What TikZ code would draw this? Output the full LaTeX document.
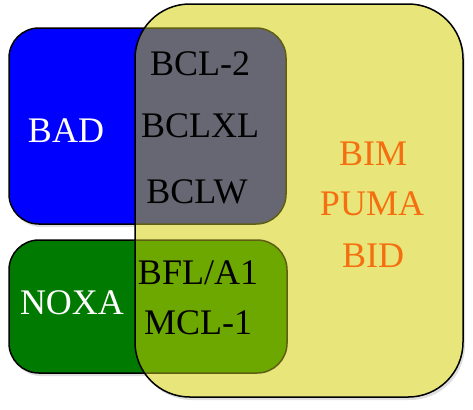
\documentclass[tikz,border=0pt]{standalone}
\usepackage{fontspec}
\setmainfont{Liberation Serif}
\usetikzlibrary{shadows}

\definecolor{badblue}{RGB}{0,0,255}
\definecolor{noxagreen}{RGB}{0,122,0}
\definecolor{bimyellow}{RGB}{232,230,122}
\definecolor{bimorange}{RGB}{245,110,15}
\definecolor{bclgray}{RGB}{103,103,115}
\definecolor{bflolive}{RGB}{108,168,0}
\definecolor{edgeolive}{RGB}{95,95,20}

\tikzset{
	box/.style={rounded corners=#1, line width=1.5bp},
	shad/.style={drop shadow={shadow xshift=2bp, shadow yshift=-3bp, opacity=0.25}},
	lbl/.style={font=\fontsize{36bp}{42bp}\selectfont, inner sep=0pt, anchor=base}
}

\begin{document}
\begin{tikzpicture}[x=1bp,y=-1bp]
	\useasboundingbox (0,0) rectangle (473,409);
	% left boxes
	\draw[box=30, shad, fill=badblue] (9,28) rectangle (286,224);
	\draw[box=30, shad, fill=noxagreen] (9,240) rectangle (287,373);
	% big yellow box
	\fill[box=55, shad, fill=bimyellow] (135,4) rectangle (463,397);
	\begin{scope}
		\clip[rounded corners=55] (135,4) rectangle (463,397);
		\draw[box=30, fill=bclgray, draw=edgeolive] (9,28) rectangle (286,224);
		\draw[box=30, fill=bflolive, draw=edgeolive] (9,240) rectangle (287,373);
	\end{scope}
	\draw[box=55] (135,4) rectangle (463,397);
	%\draw[box=30] (9,28) rectangle (135,224);

	%% labels
	\node[lbl, white] (bad) at (66,142) {BAD};
	\node[lbl, white] (noxa) at (72,314) {NOXA};
	\node[lbl] (bcl2) at (200,75) {BCL-2};
	\node[lbl] (bclxl) at (200,137) {BCLXL};
	\node[lbl] (bclw) at (197,203) {BCLW};
	\node[lbl] (bfl) at (198,284) {BFL/A1};
	\node[lbl] (mcl) at (198,334) {MCL-1};
	\node[lbl, bimorange] (bim) at (373,165) {BIM};
	\node[lbl, bimorange] (puma) at (372,215) {PUMA};
	\node[lbl, bimorange] (bid) at (373,267) {BID};
\end{tikzpicture}
\end{document}
